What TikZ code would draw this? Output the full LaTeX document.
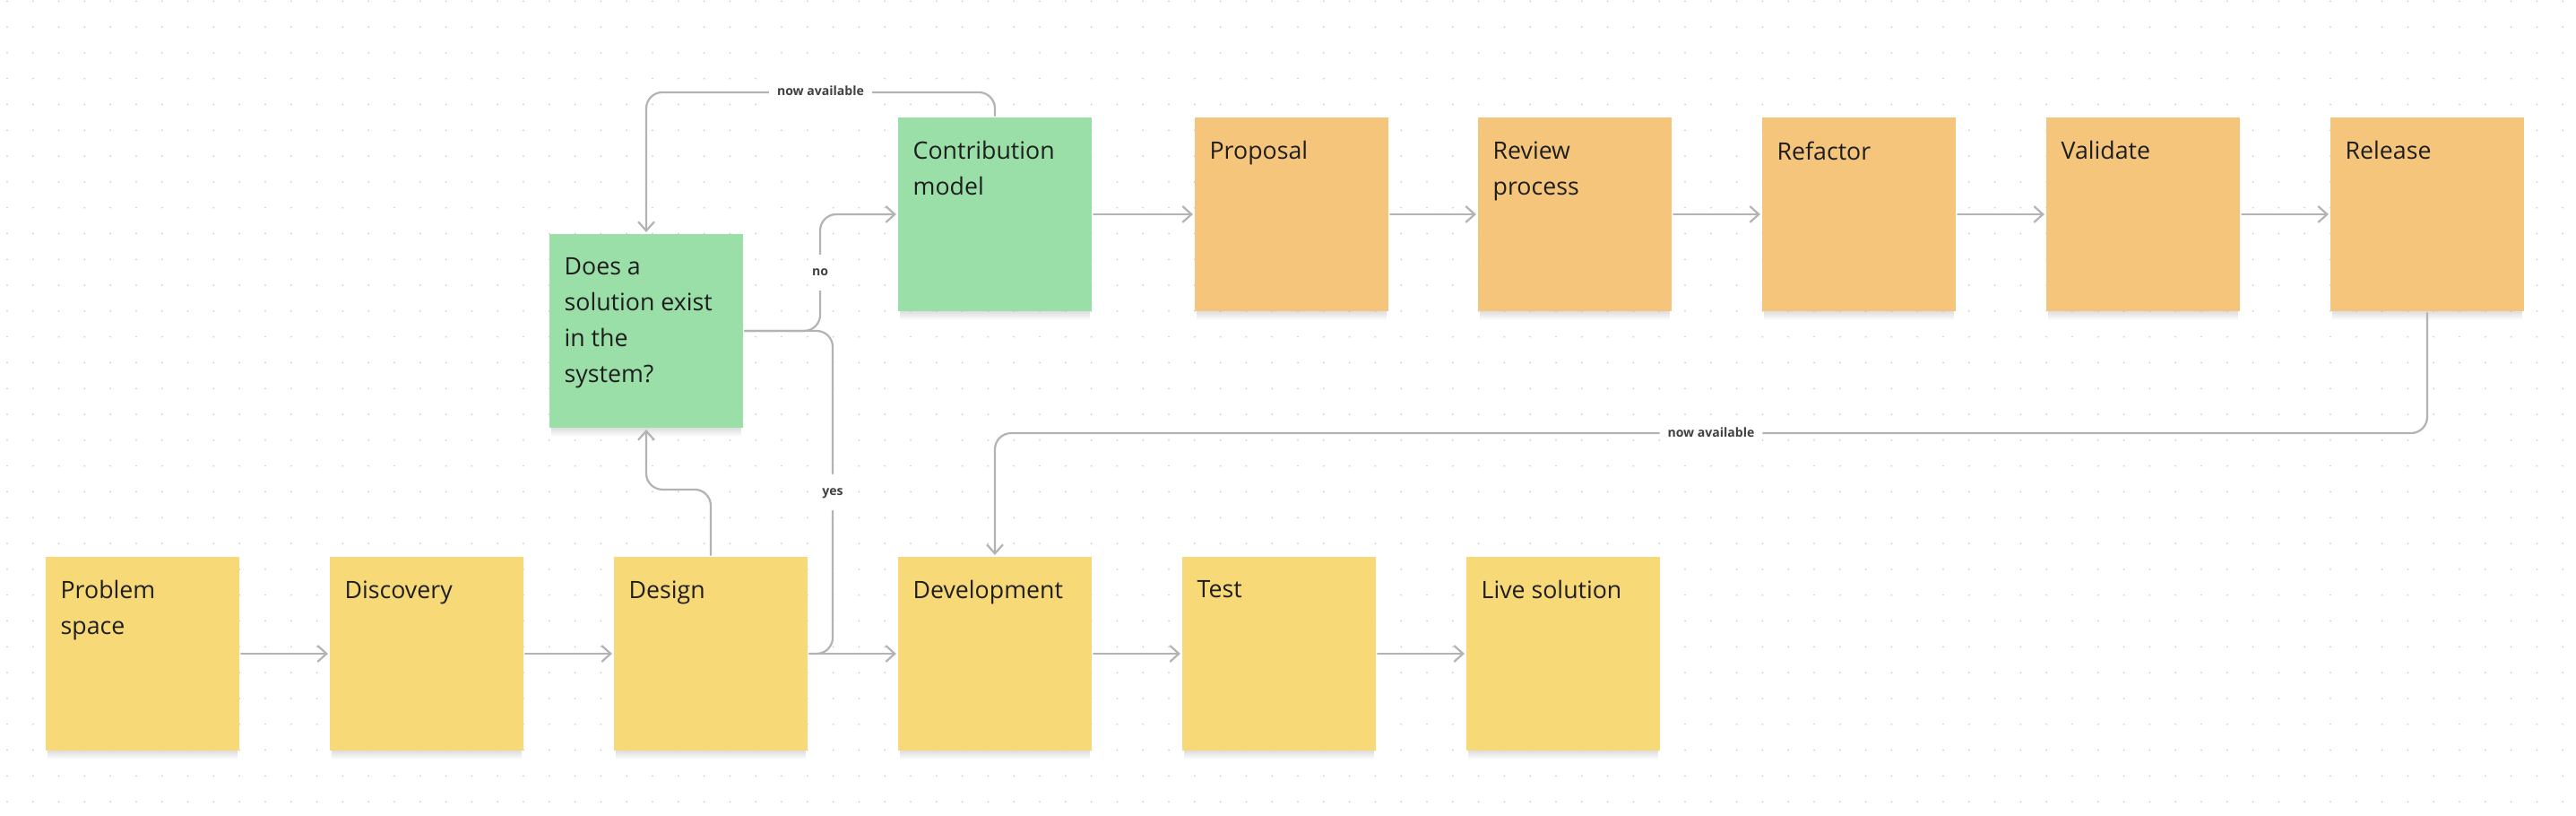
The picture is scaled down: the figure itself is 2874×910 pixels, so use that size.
\documentclass[tikz,border=0pt]{standalone}
\usepackage{fontspec}
\setmainfont{Open Sans}
\usetikzlibrary{arrows.meta,calc,fadings}
\definecolor{stickyyellow}{HTML}{F8D977}
\definecolor{stickyorange}{HTML}{F5C57C}
\definecolor{stickygreen}{HTML}{9ADFA8}
\definecolor{linegray}{HTML}{B3B3B3}
\definecolor{dotgray}{HTML}{CFCFCF}
\definecolor{inkdark}{HTML}{1E1E1E}
\tikzset{
	sticky/.style={rectangle, fill=#1, minimum width=2.16cm, minimum height=2.16cm, inner sep=0pt, outer sep=0.02cm},
	stickytext/.style={anchor=north west, inner sep=0pt, xshift=0.18cm, yshift=-0.28cm, align=left, text=inkdark,
		font=\fontsize{7.6pt}{11.38pt}\selectfont},
	stickyshadow/.style={fill=black, opacity=0.13, path fading=south},
	conn/.style={draw=linegray, line width=0.022cm, rounded corners=0.18cm, line cap=round},
	arr/.style={conn, -{Straight Barb[length=0.1cm, width=0.18cm]}},
	lbl/.style={fill=white, inner xsep=0.09cm, inner ysep=0.13cm, text height=0.11cm, text depth=0.03cm, text=inkdark!85,
		font=\fontsize{4pt}{5pt}\selectfont\bfseries},
}

\begin{document}
\begin{tikzpicture}[x=0.01cm, y=-0.01cm]
		%%%%% START %%%%%
		
		\fill[white] (0, 0) rectangle (2874, 910);
		\useasboundingbox (0, 0) rectangle (2874, 910);
		\foreach \i in {0,...,99}
			\foreach \j in {0,...,31}
				\fill[dotgray] ({8+28.8*\i}, {1.3+28.8*\j}) circle (0.01cm);
		
		% bottom row
		\node[sticky=stickyyellow, label={[stickytext]north west:{Problem\\space}}] (problem) at (159, 729) {};
		\node[sticky=stickyyellow, label={[stickytext]north west:Discovery}] (discovery) at (476, 729) {};
		\node[sticky=stickyyellow, label={[stickytext]north west:Design}] (design) at (793, 729) {};
		\node[sticky=stickyyellow, label={[stickytext]north west:Development}] (devel) at (1110, 729) {};
		\node[sticky=stickyyellow, label={[stickytext]north west:Test}] (test) at (1427, 729) {};
		\node[sticky=stickyyellow, label={[stickytext]north west:Live solution}] (live) at (1744, 729) {};
		
		% question
		\node[sticky=stickygreen, label={[stickytext]north west:{Does a\\solution exist\\in the\\system?}}] (does) at (721, 369) {};
		
		% top row
		\node[sticky=stickygreen, label={[stickytext]north west:{Contribution\\model}}] (contrib) at (1110, 239) {};
		\node[sticky=stickyorange, label={[stickytext]north west:Proposal}] (proposal) at (1441, 239) {};
		\node[sticky=stickyorange, label={[stickytext]north west:{Review\\process}}] (review) at (1757, 239) {};
		\node[sticky=stickyorange, label={[stickytext]north west:Refactor}] (refactor) at (2074, 239) {};
		\node[sticky=stickyorange, label={[stickytext]north west:Validate}] (validate) at (2391, 239) {};
		\node[sticky=stickyorange, label={[stickytext]north west:Release}] (release) at (2708, 239) {};
		
		% soft shadow under every note
		\foreach \n in {problem,discovery,design,devel,test,live,does,contrib,proposal,review,refactor,validate,release}
			\fill[stickyshadow] ($(\n.south west)+(4,-2)$) rectangle ($(\n.south east)+(-4,8)$);
		
		\draw[arr] (problem) -- (discovery);
		\draw[arr] (discovery) -- (design);
		\draw[arr] (design) -- (devel);
		\draw[arr] (devel) -- (test);
		\draw[arr] (test) -- (live);
		
		\draw[arr] (contrib) -- (proposal);
		\draw[arr] (proposal) -- (review);
		\draw[arr] (review) -- (refactor);
		\draw[arr] (refactor) -- (validate);
		\draw[arr] (validate) -- (release);
		
		\draw[arr] (design.north) -- ++(0, -73) -| (does.south);
		\draw[arr] (does.east) -- ++(84, 0) |- node[lbl, pos=0.25] {no} (contrib.west);
		\draw[conn] (does.east) -- ++(98, 0) |- node[lbl, pos=0.25] {yes} (design.east);
		
		\draw[arr] (contrib.north) -- ++(0, -26) -| node[lbl, pos=0.25] {now available} (does.north);
		\draw[arr] (release.south) -- ++(0, 134) -| node[lbl, pos=0.25] {now available} (devel.north);
		
		%%%%% END %%%%%
\end{tikzpicture}
\end{document}
